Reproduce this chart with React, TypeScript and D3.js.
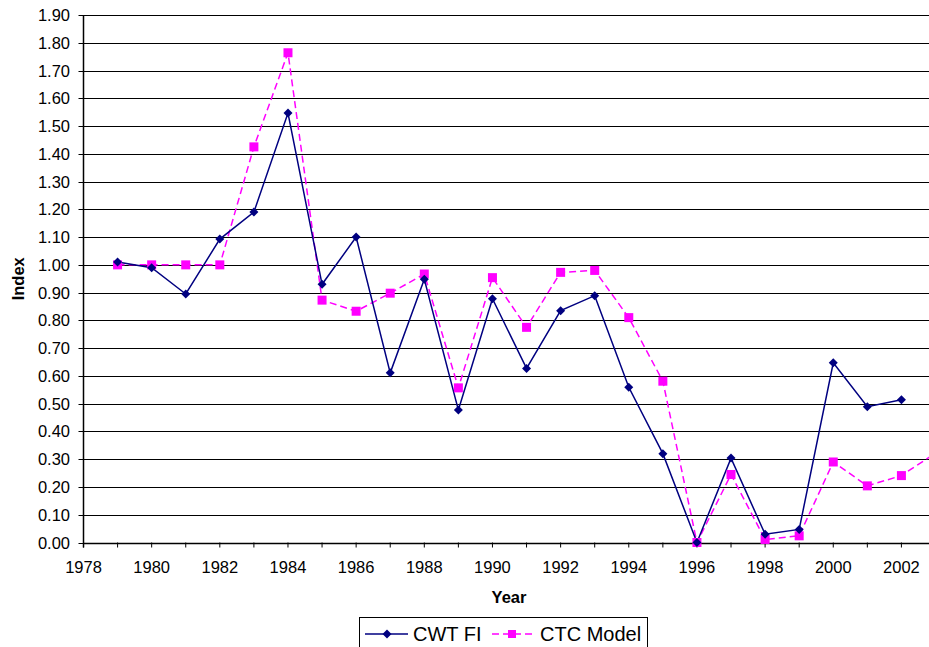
import React from "react";
import * as d3 from "d3";

const years = [1979,1980,1981,1982,1983,1984,1985,1986,1987,1988,1989,1990,1991,1992,1993,1994,1995,1996,1997,1998,1999,2000,2001,2002];
const cwtFI = [1.01,0.99,0.895,1.093,1.19,1.547,0.93,1.10,0.611,0.948,0.477,0.878,0.627,0.835,0.889,0.559,0.32,0.0,0.304,0.03,0.047,0.647,0.489,0.514];
const ctcYears = [1979,1980,1981,1982,1983,1984,1985,1986,1987,1988,1989,1990,1991,1992,1993,1994,1995,1996,1997,1998,1999,2000,2001,2002,2003];
const ctcModel = [1.0,1.0,1.0,1.0,1.425,1.764,0.873,0.833,0.898,0.967,0.557,0.954,0.775,0.973,0.98,0.81,0.581,0.0,0.245,0.011,0.024,0.29,0.204,0.241,0.322];
const yTicks = d3.range(0, 1.91, 0.1).map(v => Math.round(v * 100) / 100);
const xTicks = d3.range(1978, 2004, 1);
const xLabels = d3.range(1978, 2003, 2);

const W = 929, H = 647;
const left = 83.5, right = 935.5, top = 15, bottom = 542.5;
const FONT = "'Liberation Sans', Arial, sans-serif";

export default function App() {
  const x = d3.scaleLinear().domain([1978, 2003]).range([left, right]);
  const y = d3.scaleLinear().domain([0, 1.9]).range([bottom, top]);
  const line = d3.line<[number, number]>().x(d => x(d[0])).y(d => y(d[1]));
  const cwtPts: [number, number][] = years.map((yr, i) => [yr, cwtFI[i]]);
  const ctcPts: [number, number][] = ctcYears.map((yr, i) => [yr, ctcModel[i]]);
  const diamond = (cx: number, cy: number, r = 4.5) => `M${cx},${cy - r}L${cx + r},${cy}L${cx},${cy + r}L${cx - r},${cy}Z`;

  return (
    <svg width={W} height={H} style={{ position: "absolute", left: 0, top: 0, background: "#fff" }} fontFamily={FONT}>
      <rect x={0} y={0} width={W} height={H} fill="#fff" />
      {yTicks.map(v => (
        <g key={v}>
          <line x1={left - 5} x2={right} y1={Math.round(y(v)) + 0.5} y2={Math.round(y(v)) + 0.5} stroke="#000" strokeWidth={1} />
          <text x={70} y={Math.round(y(v)) + 6} fontSize={16.5} textAnchor="end" fill="#000">{v.toFixed(2)}</text>
        </g>
      ))}
      <line x1={left} x2={left} y1={top} y2={bottom + 5} stroke="#000" strokeWidth={1.5} />
      <line x1={left} x2={right} y1={Math.round(y(0)) + 0.5} y2={Math.round(y(0)) + 0.5} stroke="#000" strokeWidth={1.5} />
      {xTicks.map(t => (
        <line key={t} x1={x(t)} x2={x(t)} y1={bottom} y2={bottom + 5} stroke="#000" strokeWidth={1} />
      ))}
      {xLabels.map(t => (
        <text key={t} x={x(t)} y={573} fontSize={16.5} textAnchor="middle" fill="#000">{t}</text>
      ))}
      <text x={509} y={603} fontSize={16.5} fontWeight="bold" textAnchor="middle">Year</text>
      <text transform={`translate(24,${(top + bottom) / 2}) rotate(-90)`} fontSize={16.5} fontWeight="bold" textAnchor="middle">Index</text>

      <path d={line(ctcPts) || ""} fill="none" stroke="#FF00FF" strokeWidth={1.5} strokeDasharray="7,4" />
      <path d={line(cwtPts) || ""} fill="none" stroke="#000080" strokeWidth={1.5} />
      {ctcPts.map((p, i) => (
        <rect key={i} x={x(p[0]) - 4.5} y={y(p[1]) - 4.5} width={9} height={9} fill="#FF00FF" />
      ))}
      {cwtPts.map((p, i) => (
        <path key={i} d={diamond(x(p[0]), y(p[1]))} fill="#000080" />
      ))}

      <rect x={359.5} y={617.5} width={288} height={40} fill="#fff" stroke="#000" strokeWidth={1} />
      <line x1={365} x2={408} y1={634} y2={634} stroke="#000080" strokeWidth={1.5} />
      <path d={diamond(387, 634)} fill="#000080" />
      <text x={413} y={641} fontSize={20}>CWT FI</text>
      <line x1={492} x2={533} y1={634} y2={634} stroke="#FF00FF" strokeWidth={1.5} strokeDasharray="7,4" />
      <rect x={508} y={630} width={8} height={8} fill="#FF00FF" />
      <text x={540} y={641} fontSize={20}>CTC Model</text>
    </svg>
  );
}
